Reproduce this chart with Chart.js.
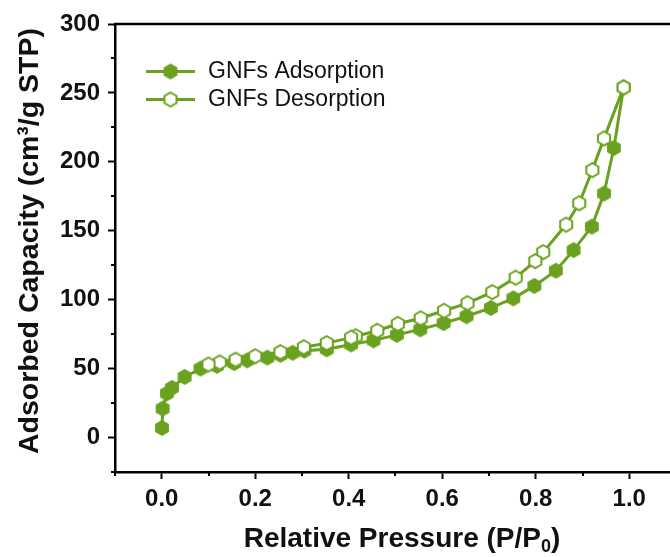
<!DOCTYPE html>
<html>
<head>
<meta charset="utf-8">
<script src="https://cdn.jsdelivr.net/npm/chart.js@4/dist/chart.umd.min.js"></script>
<style>
  html, body { margin: 0; padding: 0; background: #fff; overflow: hidden; width: 670px; height: 557px; }
  #wrap { width: 700px; height: 557px; }
</style>
</head>
<body>
<div id="wrap"><canvas id="c" width="700" height="557"></canvas></div>
<script>
// ---- data ----
const adsX = [0.0005, 0.002, 0.011, 0.022, 0.049, 0.083, 0.118, 0.155, 0.183, 0.226, 0.254, 0.280, 0.305, 0.353, 0.405, 0.453, 0.503, 0.553, 0.603, 0.652, 0.704, 0.752, 0.797, 0.843, 0.881, 0.920, 0.946, 0.967, 0.988];
const adsY = [7, 21, 32, 36, 44, 50, 52, 54, 56, 58, 60, 61.5, 63, 64, 67.5, 70.5, 74.5, 78.5, 83, 88, 94, 101, 110, 121, 136, 153, 177, 210, 254];
const desX = [0.988, 0.946, 0.921, 0.893, 0.865, 0.816, 0.799, 0.757, 0.707, 0.654, 0.604, 0.554, 0.505, 0.461, 0.415, 0.405, 0.353, 0.304, 0.254, 0.200, 0.158, 0.124, 0.100];
const desY = [254, 217, 194, 170, 154.5, 134.5, 128, 116, 105.5, 97.5, 92, 86.5, 82.5, 77.5, 73.5, 72.5, 68.5, 65.5, 62, 59, 56.5, 54.5, 53];
const seriesNames = ['GNFs Adsorption', 'GNFs Desorption'];
const xMajorTicks = [0.0, 0.2, 0.4, 0.6, 0.8, 1.0];
const xMinorTicks = [-0.1, 0.1, 0.3, 0.5, 0.7, 0.9, 1.1];
const yMajorTicks = [0, 50, 100, 150, 200, 250, 300];
const yMinorTicks = [-25, 25, 75, 125, 175, 225, 275];
const xTitleParts = ['Relative Pressure (P/P', '0', ')'];   // middle part is a subscript
const yTitle = 'Adsorbed Capacity (cm\u00B3/g STP)';

// ---- styles ----
const GREEN = '#6aa21f';
const FONT = '"Liberation Sans", Arial, sans-serif';

function hexCanvas(filled) {
  const size = 20, R = 8, lw = 2;
  const c = document.createElement('canvas');
  c.width = size; c.height = size;
  const g = c.getContext('2d');
  const r = filled ? R : R - lw / 2;
  g.beginPath();
  for (let i = 0; i < 6; i++) {
    const a = Math.PI / 180 * (60 * i - 90);
    const px = size / 2 + r * Math.cos(a), py = size / 2 + r * Math.sin(a);
    if (i === 0) g.moveTo(px, py); else g.lineTo(px, py);
  }
  g.closePath();
  if (filled) { g.fillStyle = GREEN; g.fill(); }
  else { g.fillStyle = '#fff'; g.fill(); g.lineWidth = lw; g.strokeStyle = GREEN; g.stroke(); }
  return c;
}
const hexFilled = hexCanvas(true);
const hexOpen = hexCanvas(false);

const adsData = adsX.map((x, i) => ({ x: x, y: adsY[i] }));
const desData = desX.map((x, i) => ({ x: x, y: desY[i] }));

const extras = {
  id: 'extras',
  afterDraw(chart) {
    const ctx = chart.ctx, a = chart.chartArea;
    const xs = chart.scales.x, ys = chart.scales.y;
    ctx.save();
    ctx.strokeStyle = '#000';
    ctx.lineWidth = 2;
    // minor ticks
    yMinorTicks.forEach(v => {
      const py = Math.round(ys.getPixelForValue(v));
      ctx.beginPath(); ctx.moveTo(a.left - 4, py); ctx.lineTo(a.left, py); ctx.stroke();
    });
    xMinorTicks.forEach(v => {
      const px = Math.round(xs.getPixelForValue(v));
      ctx.beginPath(); ctx.moveTo(px, a.bottom); ctx.lineTo(px, a.bottom + 4); ctx.stroke();
    });
    // top border
    ctx.lineWidth = 2.5;
    ctx.beginPath(); ctx.moveTo(a.left - 1, a.top); ctx.lineTo(a.right, a.top); ctx.stroke();

    // axis titles
    ctx.fillStyle = '#111';
    ctx.textBaseline = 'alphabetic';
    ctx.textAlign = 'left';
    const big = 'bold 28px ' + FONT, small = 'bold 18px ' + FONT;
    ctx.font = big; const w0 = ctx.measureText(xTitleParts[0]).width, w2 = ctx.measureText(xTitleParts[2]).width;
    ctx.font = small; const w1 = ctx.measureText(xTitleParts[1]).width;
    let tx = 402 - (w0 + w1 + w2) / 2;
    const ty = 547;
    ctx.font = big; ctx.fillText(xTitleParts[0], tx, ty); tx += w0;
    ctx.font = small; ctx.fillText(xTitleParts[1], tx, ty + 5); tx += w1;
    ctx.font = big; ctx.fillText(xTitleParts[2], tx, ty);

    ctx.save();
    ctx.translate(38, 241);
    ctx.rotate(-Math.PI / 2);
    ctx.font = 'bold 28.5px ' + FONT;
    ctx.textAlign = 'center';
    ctx.fillText(yTitle, 0, 0);
    ctx.restore();

    // legend
    const rows = [71.5, 99.5];
    const imgs = [hexFilled, hexOpen];
    ctx.font = '23px ' + FONT;
    ctx.fillStyle = '#111';
    ctx.textAlign = 'left';
    rows.forEach((ry, i) => {
      ctx.strokeStyle = GREEN; ctx.lineWidth = 3;
      ctx.beginPath(); ctx.moveTo(146, ry); ctx.lineTo(195, ry); ctx.stroke();
      ctx.drawImage(imgs[i], 170.5 - imgs[i].width / 2, ry - imgs[i].height / 2);
      ctx.fillText(seriesNames[i], 208, ry + 6.5);
    });
    ctx.restore();
  }
};

new Chart(document.getElementById('c'), {
  type: 'scatter',
  data: {
    datasets: [
      { label: seriesNames[0], data: adsData, showLine: true, borderColor: GREEN, borderWidth: 3,
        pointStyle: hexFilled, pointRadius: 7, pointHoverRadius: 7, order: 1 },
      { label: seriesNames[1], data: desData, showLine: true, borderColor: GREEN, borderWidth: 3,
        pointStyle: hexOpen, pointRadius: 7, pointHoverRadius: 7, order: 0 }
    ]
  },
  options: {
    responsive: false,
    animation: false,
    devicePixelRatio: 1,
    layout: { padding: { top: 24, right: 24, left: 0, bottom: 0 } },
    plugins: { legend: { display: false }, tooltip: { enabled: false } },
    scales: {
      x: {
        type: 'linear', min: -0.1, max: 1.1,
        afterBuildTicks: s => { s.ticks = xMajorTicks.map(v => ({ value: v })); },
        afterFit: s => { s.height = 85; },
        grid: { drawOnChartArea: false, drawTicks: true, tickLength: 7, tickWidth: 2, tickColor: '#000' },
        border: { display: true, color: '#000', width: 2.5 },
        ticks: { color: '#111', font: { family: FONT, size: 24, weight: 'bold' }, padding: 6,
                 maxRotation: 0, callback: v => Number(v).toFixed(1) },
        title: { display: false }
      },
      y: {
        type: 'linear', min: -25, max: 300,
        afterBuildTicks: s => { s.ticks = yMajorTicks.map(v => ({ value: v })); },
        afterFit: s => { s.width = 115; },
        grid: { drawOnChartArea: false, drawTicks: true, tickLength: 7, tickWidth: 2, tickColor: '#000' },
        border: { display: true, color: '#000', width: 2.5 },
        ticks: { color: '#111', font: { family: FONT, size: 24, weight: 'bold' }, padding: 8,
                 callback: v => String(v) },
        title: { display: false }
      }
    }
  },
  plugins: [extras]
});
</script>
</body>
</html>
